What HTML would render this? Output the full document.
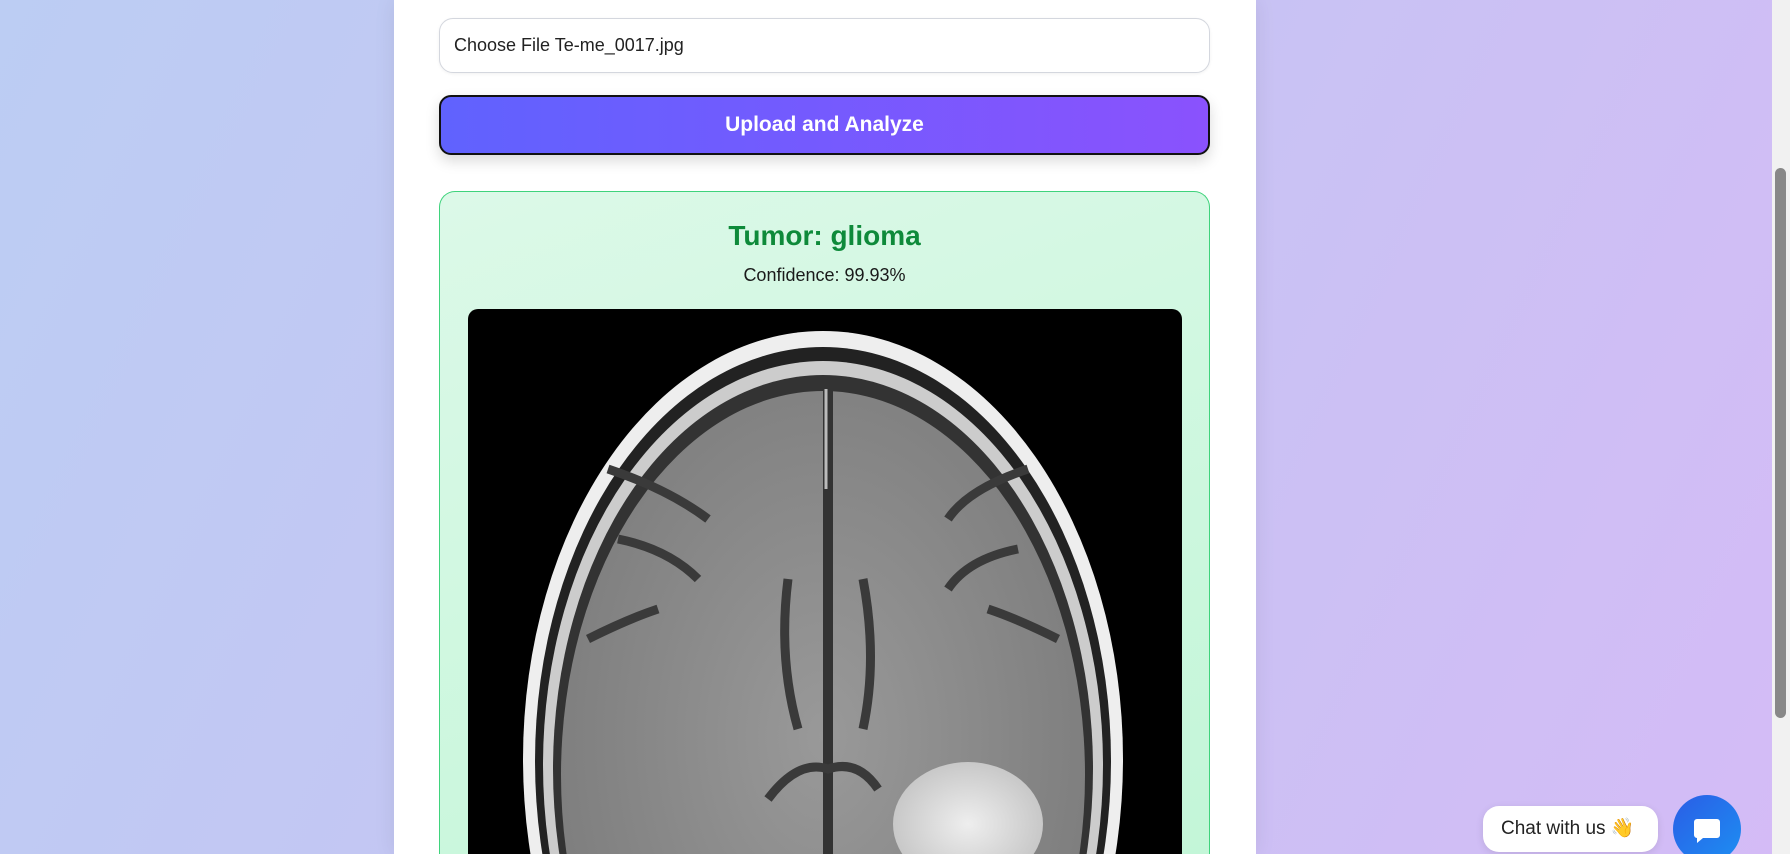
<!DOCTYPE html>
<html><head><meta charset="utf-8">
<style>
*{box-sizing:border-box;margin:0;padding:0}
html,body{width:1790px;height:854px;overflow:hidden}
body{background:linear-gradient(115deg,#bccdf3 0%,#c6c4f3 50%,#d4bbf6 100%);font-family:"Liberation Sans",sans-serif;position:relative}
.card{position:absolute;left:394px;top:0;width:862px;height:854px;background:#fff;box-shadow:0 0 20px rgba(0,0,0,.08)}
.file{position:absolute;left:439px;top:18px;width:771px;height:55px;border:1px solid #d4d7de;border-radius:14px;background:#fff;font-size:18px;color:#222;padding:16px 14px;box-shadow:0 1px 3px rgba(0,0,0,.06)}
.btn{position:absolute;left:439px;top:95px;width:771px;height:60px;border:2px solid #111;border-radius:12px;background:linear-gradient(90deg,#6062fe,#8a52fd);color:#fff;font-weight:bold;font-size:21px;text-align:center;line-height:56px;box-shadow:0 6px 14px rgba(0,0,0,.15)}
.result{position:absolute;left:439px;top:191px;width:771px;height:663px;border:1px solid #3fd37c;border-bottom:none;border-radius:16px 16px 0 0;background:linear-gradient(160deg,#dcf9e8,#c3f6d8)}
.title{position:absolute;left:439px;width:771px;top:220px;text-align:center;font-size:28px;font-weight:bold;color:#0e8a3a}
.conf{position:absolute;left:439px;width:771px;top:265px;text-align:center;font-size:18px;color:#1a1a1a}
.img{position:absolute;left:468px;top:309px;width:714px;height:545px;background:#000;border-radius:10px 10px 0 0;overflow:hidden}
.scroll{position:absolute;left:1772px;top:0;width:18px;height:854px;background:#f1f1f1}
.thumb{position:absolute;left:1775px;top:168px;width:11px;height:550px;background:#888;border-radius:6px}
.pill{position:absolute;left:1483px;top:806px;width:175px;height:46px;background:#fff;border-radius:16px;font-size:19px;color:#222;line-height:46px;padding-left:18px;box-shadow:0 2px 8px rgba(0,0,0,.1)}
.chat{position:absolute;left:1673px;top:795px;width:68px;height:59px;overflow:hidden}
.chat .c{width:68px;height:68px;border-radius:50%;background:linear-gradient(135deg,#2a5de6,#1d8ff2)}
</style></head><body>
<div class="card"></div>
<div class="file">Choose File Te-me_0017.jpg</div>
<div class="btn">Upload and Analyze</div>
<div class="result"></div>
<div class="title">Tumor: glioma</div>
<div class="conf">Confidence: 99.93%</div>
<div class="img">
<svg width="714" height="545" viewBox="0 0 714 545">
<defs><radialGradient id="g" cx="50%" cy="45%" r="60%"><stop offset="0" stop-color="#999"/><stop offset="1" stop-color="#7a7a7a"/></radialGradient>
<radialGradient id="t" cx="50%" cy="50%" r="50%"><stop offset="0" stop-color="#eee"/><stop offset="1" stop-color="#c8c8c8"/></radialGradient></defs>
<ellipse cx="355" cy="450" rx="300" ry="428" fill="#eee"/>
<ellipse cx="355" cy="452" rx="288" ry="414" fill="#222"/>
<ellipse cx="355" cy="456" rx="280" ry="404" fill="#ccc"/>
<ellipse cx="355" cy="460" rx="270" ry="394" fill="#333"/>
<ellipse cx="355" cy="466" rx="262" ry="384" fill="url(#g)"/>
<path d="M360 80 L360 545" stroke="#333" stroke-width="10" fill="none"/>
<path d="M358 80 L358 180" stroke="#bbb" stroke-width="3" fill="none"/>
<path d="M330 420 Q310 350 320 270 M395 420 Q410 350 395 270 M140 160 Q200 180 240 210 M560 160 Q500 180 480 210 M120 330 Q160 310 190 300 M590 330 Q550 310 520 300 M150 230 Q200 240 230 270 M550 240 Q500 250 480 280 M300 490 Q330 450 360 460 Q390 450 410 480" stroke="#3a3a3a" stroke-width="9" fill="none"/>
<ellipse cx="500" cy="515" rx="75" ry="62" fill="url(#t)"/>
</svg></div>
<div class="scroll"></div>
<div class="thumb"></div>
<div class="pill">Chat with us 👋</div>
<div class="chat"><div class="c">
<svg width="68" height="68" viewBox="0 0 68 68"><path d="M24 24 h20 a3 3 0 0 1 3 3 v13 a3 3 0 0 1 -3 3 h-14 l-6 5 v-5 a3 3 0 0 1 -3 -3 v-13 a3 3 0 0 1 3 -3z" fill="#fff"/></svg></div></div>
</body></html>
